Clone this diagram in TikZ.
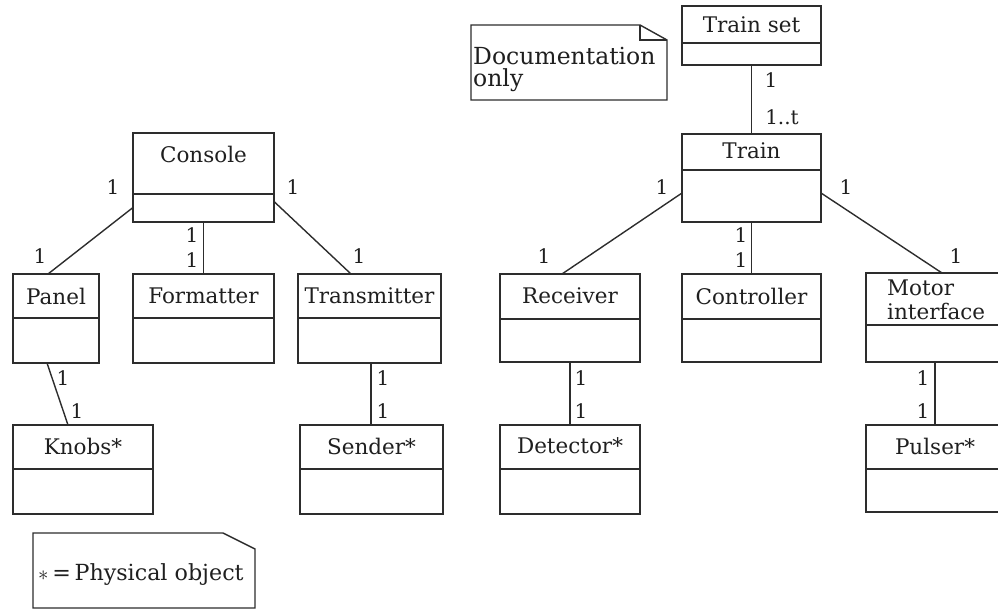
\documentclass[tikz,border=0pt]{standalone}
\usepackage{fontspec}
\setmainfont{DejaVu Serif}
\begin{document}
\begin{tikzpicture}[x=1pt,y=-1pt,
  box/.style={draw=linec, line width=1.4pt, inner sep=0pt, outer sep=0pt, rectangle},
  conn/.style={draw=linec, line width=1.4pt},
  lbl/.style={inner sep=0pt, font=\fontsize{21.5}{24}\selectfont, text=black!88},
  notelbl/.style={inner sep=0pt, font=\fontsize{23.5}{26}\selectfont, text=black!88},
  mult/.style={inner sep=0pt, font=\fontsize{20}{22}\selectfont, text=black!88},
  divider/.style={draw=linec, line width=1.3pt}]
\definecolor{linec}{RGB}{45,45,45}
\useasboundingbox (0,0) rectangle (998,609);
\clip (0,0) rectangle (998,609);
% class macro: name, x1, y1, x2, y2, ydiv
\newcommand\umlbox[6]{%
  \node[box, minimum width={(#4)-(#2)}, minimum height={(#5)-(#3)}] (#1) at ({((#2)+(#4))/2},{((#3)+(#5))/2}) {};
  \draw[divider] (#2,#6) -- (#4,#6);
}
% classes
\umlbox{trainset}{682}{6}{821}{65}{43}
\node[lbl] (ttrainset) at (751.5,25) {Train set};
\umlbox{console}{133}{133}{274}{222}{194}
\node[lbl] (tconsole) at (203.5,154) {Console};
\umlbox{panel}{13}{274}{99}{363}{318}
\node[lbl] (tpanel) at (56,296) {Panel};
\umlbox{formatter}{133}{274}{274}{363}{318}
\node[lbl] (tformatter) at (203.5,296) {Formatter};
\umlbox{transmitter}{298}{274}{441}{363}{318}
\node[lbl] (ttransmitter) at (369.5,296) {Transmitter};
\umlbox{knobs}{13}{425}{153}{514}{469}
\node[lbl] (tknobs) at (83,446) {Knobs*};
\umlbox{sender}{300}{425}{443}{514}{469}
\node[lbl] (tsender) at (371.5,446) {Sender*};
\umlbox{train}{682}{134}{821}{222}{170}
\node[lbl] (ttrain) at (751.5,151) {Train};
\umlbox{receiver}{500}{274}{640}{362}{319}
\node[lbl] (treceiver) at (570,296) {Receiver};
\umlbox{controller}{682}{274}{821}{362}{319}
\node[lbl] (tcontroller) at (751.5,296) {Controller};
\umlbox{motor}{866}{273}{1010}{362}{325}
\node[lbl, anchor=west] (tmotor1) at (887,288) {Motor};
\node[lbl, anchor=west] (tmotor2) at (887,311) {interface};
\umlbox{detector}{500}{425}{640}{514}{469}
\node[lbl] (tdetector) at (570,446) {Detector*};
\umlbox{pulser}{866}{425}{1010}{512}{469}
\node[lbl] (tpulser) at (935,446) {Pulser*};
% notes
\coordinate (n1a) at (471,25);
\coordinate (n1b) at (640,25);
\coordinate (n1c) at (667,40);
\coordinate (n1d) at (667,100);
\coordinate (n1e) at (471,100);
\draw[conn] (n1a) -- (n1b) -- (n1c) -- (n1d) -- (n1e) -- cycle;
\draw[conn] (n1b) -- (640,40) -- (n1c);
\node[notelbl, anchor=west] (tdoc1) at (473,56) {Documentation};
\node[notelbl, anchor=west] (tdoc2) at (473,80) {only};
\coordinate (n2a) at (33,533);
\coordinate (n2b) at (223,533);
\coordinate (n2c) at (255,549);
\coordinate (n2d) at (255,608);
\coordinate (n2e) at (33,608);
\draw[conn] (n2a) -- (n2b) -- (n2c) -- (n2d) -- (n2e) -- cycle;
\node[lbl, font=\fontsize{22.2}{24}\selectfont, anchor=west] (tphys) at (38,575) {$*$\,=\,Physical object};
% connectors
\draw[conn] (trainset.south) -- (train.north);
\draw[conn] ([yshift=-30pt]console.west) -- ([xshift=-8pt]panel.north);
\draw[conn] (console.south) -- (formatter.north);
\draw[conn] ([yshift=-24pt]console.east) -- ([xshift=-18.5pt]transmitter.north);
\draw[conn] ([xshift=-9pt]panel.south) -- ([xshift=-15pt]knobs.north);
\draw[conn] ([xshift=1.5pt]transmitter.south) -- ([xshift=-0.5pt]sender.north);
\draw[conn] ([yshift=-15pt]train.west) -- ([xshift=-8pt]receiver.north);
\draw[conn] (train.south) -- (controller.north);
\draw[conn] ([yshift=-15pt]train.east) -- ([xshift=4pt]motor.north);
\draw[conn] (receiver.south) -- (detector.north);
\draw[conn] ([xshift=-3pt]motor.south) -- ([xshift=-3pt]pulser.north);
% multiplicities
\node[mult] (m1) at (771,80) {1};
\node[mult] (m2) at (782,117) {1..t};
\node[mult] (m3) at (113,187) {1};
\node[mult] (m4) at (293,187) {1};
\node[mult] (m5) at (40,256) {1};
\node[mult] (m6) at (192,235) {1};
\node[mult] (m7) at (192,260) {1};
\node[mult] (m8) at (359,256) {1};
\node[mult] (m9) at (63,378) {1};
\node[mult] (m10) at (77,411) {1};
\node[mult] (m11) at (383,378) {1};
\node[mult] (m12) at (383,411) {1};
\node[mult] (m13) at (662,187) {1};
\node[mult] (m14) at (846,187) {1};
\node[mult] (m15) at (544,256) {1};
\node[mult] (m16) at (741,235) {1};
\node[mult] (m17) at (741,260) {1};
\node[mult] (m18) at (956,256) {1};
\node[mult] (m19) at (581,378) {1};
\node[mult] (m20) at (581,411) {1};
\node[mult] (m21) at (923,378) {1};
\node[mult] (m22) at (923,411) {1};
\end{tikzpicture}
\end{document}
